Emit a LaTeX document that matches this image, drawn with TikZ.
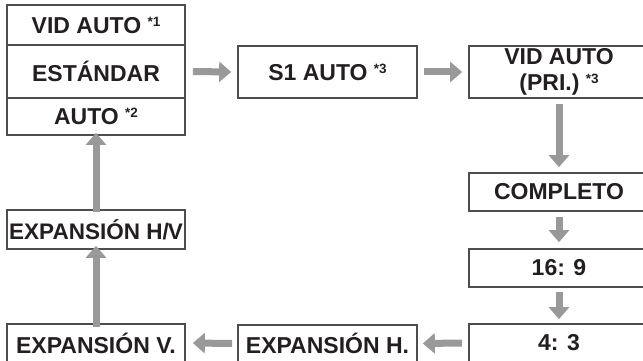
\documentclass[tikz,border=0pt]{standalone}
\usepackage{fontspec}
\setmainfont{Liberation Sans}
\usetikzlibrary{arrows.meta}
\definecolor{boxgray}{HTML}{4D4D4D}
\definecolor{arrgray}{HTML}{999999}
\definecolor{txt}{HTML}{231F20}
\newcommand\supnote[1]{\raisebox{7pt}{\fontsize{13.5}{13.5}\selectfont *#1}}
\tikzset{
  box/.style={draw=boxgray, line width=1.7pt, text=txt, inner sep=0pt,
    font=\fontsize{23}{25.5}\selectfont\bfseries, align=center},
  wbox/.style={box, minimum width=178pt},
  arr/.style={draw=arrgray, line width=7pt, -{Triangle[width=20pt,length=12pt]}},
}
\begin{document}
\begin{tikzpicture}[x=1pt,y=-1pt]
\clip (0,0) rectangle (643,361);
\fill[white] (0,0) rectangle (643,361);
% left stack
\node[wbox, minimum height=40pt] (vid) at (96,25) {VID AUTO \supnote{1}};
\node[wbox, minimum height=53pt] (est) at (96,71.5) {ESTÁNDAR};
\node[wbox, minimum height=37pt] (auto) at (96,116.5) {AUTO \supnote{2}};
% top row
\node[box, minimum width=179pt, minimum height=52pt] (s1) at (327.5,72) {S1 AUTO \supnote{3}};
\node[box, minimum width=180pt, minimum height=52pt] (pri) at (559,72) {VID AUTO\\(PRI.) \supnote{3}};
% right column
\node[box, minimum width=180pt, minimum height=38pt] (comp) at (559,192) {COMPLETO};
\node[box, minimum width=180pt, minimum height=38pt] (r169) at (559,268) {16: 9};
\node[box, minimum width=180pt, minimum height=38pt] (r43) at (559,343) {4: 3};
% bottom row
\node[box, minimum width=179pt, minimum height=37pt] (exph) at (327.5,343.5) {EXPANSIÓN H.};
\node[wbox, minimum height=38pt] (expv) at (96,343) {EXPANSIÓN V.};
\node[wbox, minimum height=39pt, font=\fontsize{22.5}{25}\selectfont\bfseries] (exphv) at (96,229.5) {EXPANSIÓN H/\kern-1pt V};
% arrows
\draw[arr] ([xshift=7pt]est.east) -- ([xshift=-6pt]s1.west);
\draw[arr] ([xshift=6pt]s1.east) -- ([xshift=-6pt]pri.west);
\draw[arr] ([yshift=-5pt]pri.south) -- ([yshift=5pt]comp.north);
\draw[arr] ([yshift=-5pt]comp.south) -- ([yshift=6pt]r169.north);
\draw[arr] ([yshift=-4pt]r169.south) -- ([yshift=4pt]r43.north);
\draw[arr] ([xshift=-6pt]r43.west) -- ([xshift=5pt]exph.east);
\draw[arr] ([xshift=-5pt]exph.west) -- ([xshift=7pt]expv.east);
\draw[arr] ([yshift=-4pt]expv.north) -- ([yshift=4pt]exphv.south);
\draw[arr] ([yshift=-3pt]exphv.north) -- ([yshift=3pt]auto.south);
\end{tikzpicture}
\end{document}
